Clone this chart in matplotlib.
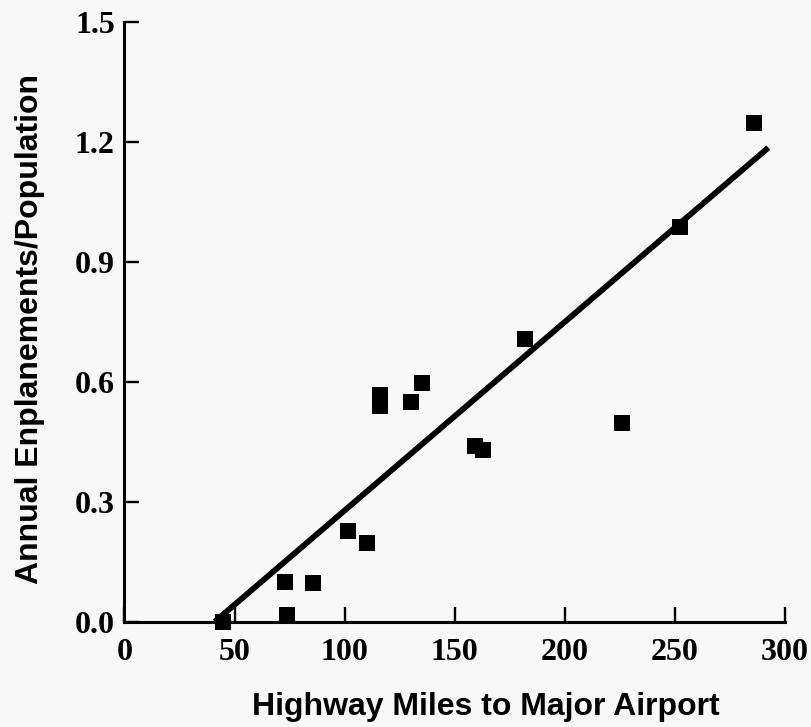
import matplotlib
matplotlib.use("Agg")
import matplotlib.pyplot as plt

# Data
miles = [44.8, 73.9, 72.9, 85.8, 101.6, 110.0, 116.0, 116.0, 130.1, 135.3,
         159.2, 163.0, 181.9, 226.1, 252.3, 285.9]
enplanements = [0.0, 0.018, 0.099, 0.096, 0.227, 0.196, 0.566, 0.539, 0.549, 0.598,
                0.44, 0.429, 0.707, 0.498, 0.986, 1.248]

# Fitted line endpoints
fit_x = [41.0, 292.4]
fit_y = [0.0, 1.185]

x_ticks = [0, 50, 100, 150, 200, 250, 300]
y_ticks = [0.0, 0.3, 0.6, 0.9, 1.2, 1.5]
y_tick_labels = ["0.0", "0.3", "0.6", "0.9", "1.2", "1.5"]

bg = "#f8f8f8"
fig = plt.figure(figsize=(8.12, 7.27), dpi=100, facecolor=bg)
ax = fig.add_axes([124.5 / 812, 1 - 621.7 / 727, (785 - 124.5) / 812, (621.7 - 21.7) / 727])
ax.set_facecolor(bg)

ax.plot(fit_x, fit_y, color="black", lw=4.2, solid_capstyle="butt", zorder=2, clip_on=False)
ax.plot(miles, enplanements, linestyle="none", marker="s", markersize=11,
        color="black", markeredgewidth=0, zorder=3, clip_on=False)

ax.set_xlim(0, 300)
ax.set_ylim(0, 1.5)
for s in ["top", "right"]:
    ax.spines[s].set_visible(False)
for s in ["left", "bottom"]:
    ax.spines[s].set_linewidth(2.2)

ax.set_xticks(x_ticks)
ax.set_yticks(y_ticks)
ax.set_yticklabels(y_tick_labels)
ax.tick_params(axis="both", direction="in", length=10.5, width=1.7, color="black")
ax.tick_params(axis="x", pad=12)
ax.tick_params(axis="y", pad=7)
for lab in ax.get_xticklabels() + ax.get_yticklabels():
    lab.set_fontfamily("Liberation Serif")
    lab.set_fontweight("bold")
    lab.set_fontsize(23)

fig.text(485.5 / 812, 1 - 707 / 727, "Highway Miles to Major Airport",
         ha="center", va="center", fontsize=23, fontweight="bold",
         family="Liberation Sans")
fig.text(30 / 812, 1 - 329 / 727, "Annual Enplanements/Population",
         ha="center", va="center", rotation=90, fontsize=23, fontweight="bold",
         family="Liberation Sans")

fig.savefig("out.png", dpi=100, facecolor=bg)
